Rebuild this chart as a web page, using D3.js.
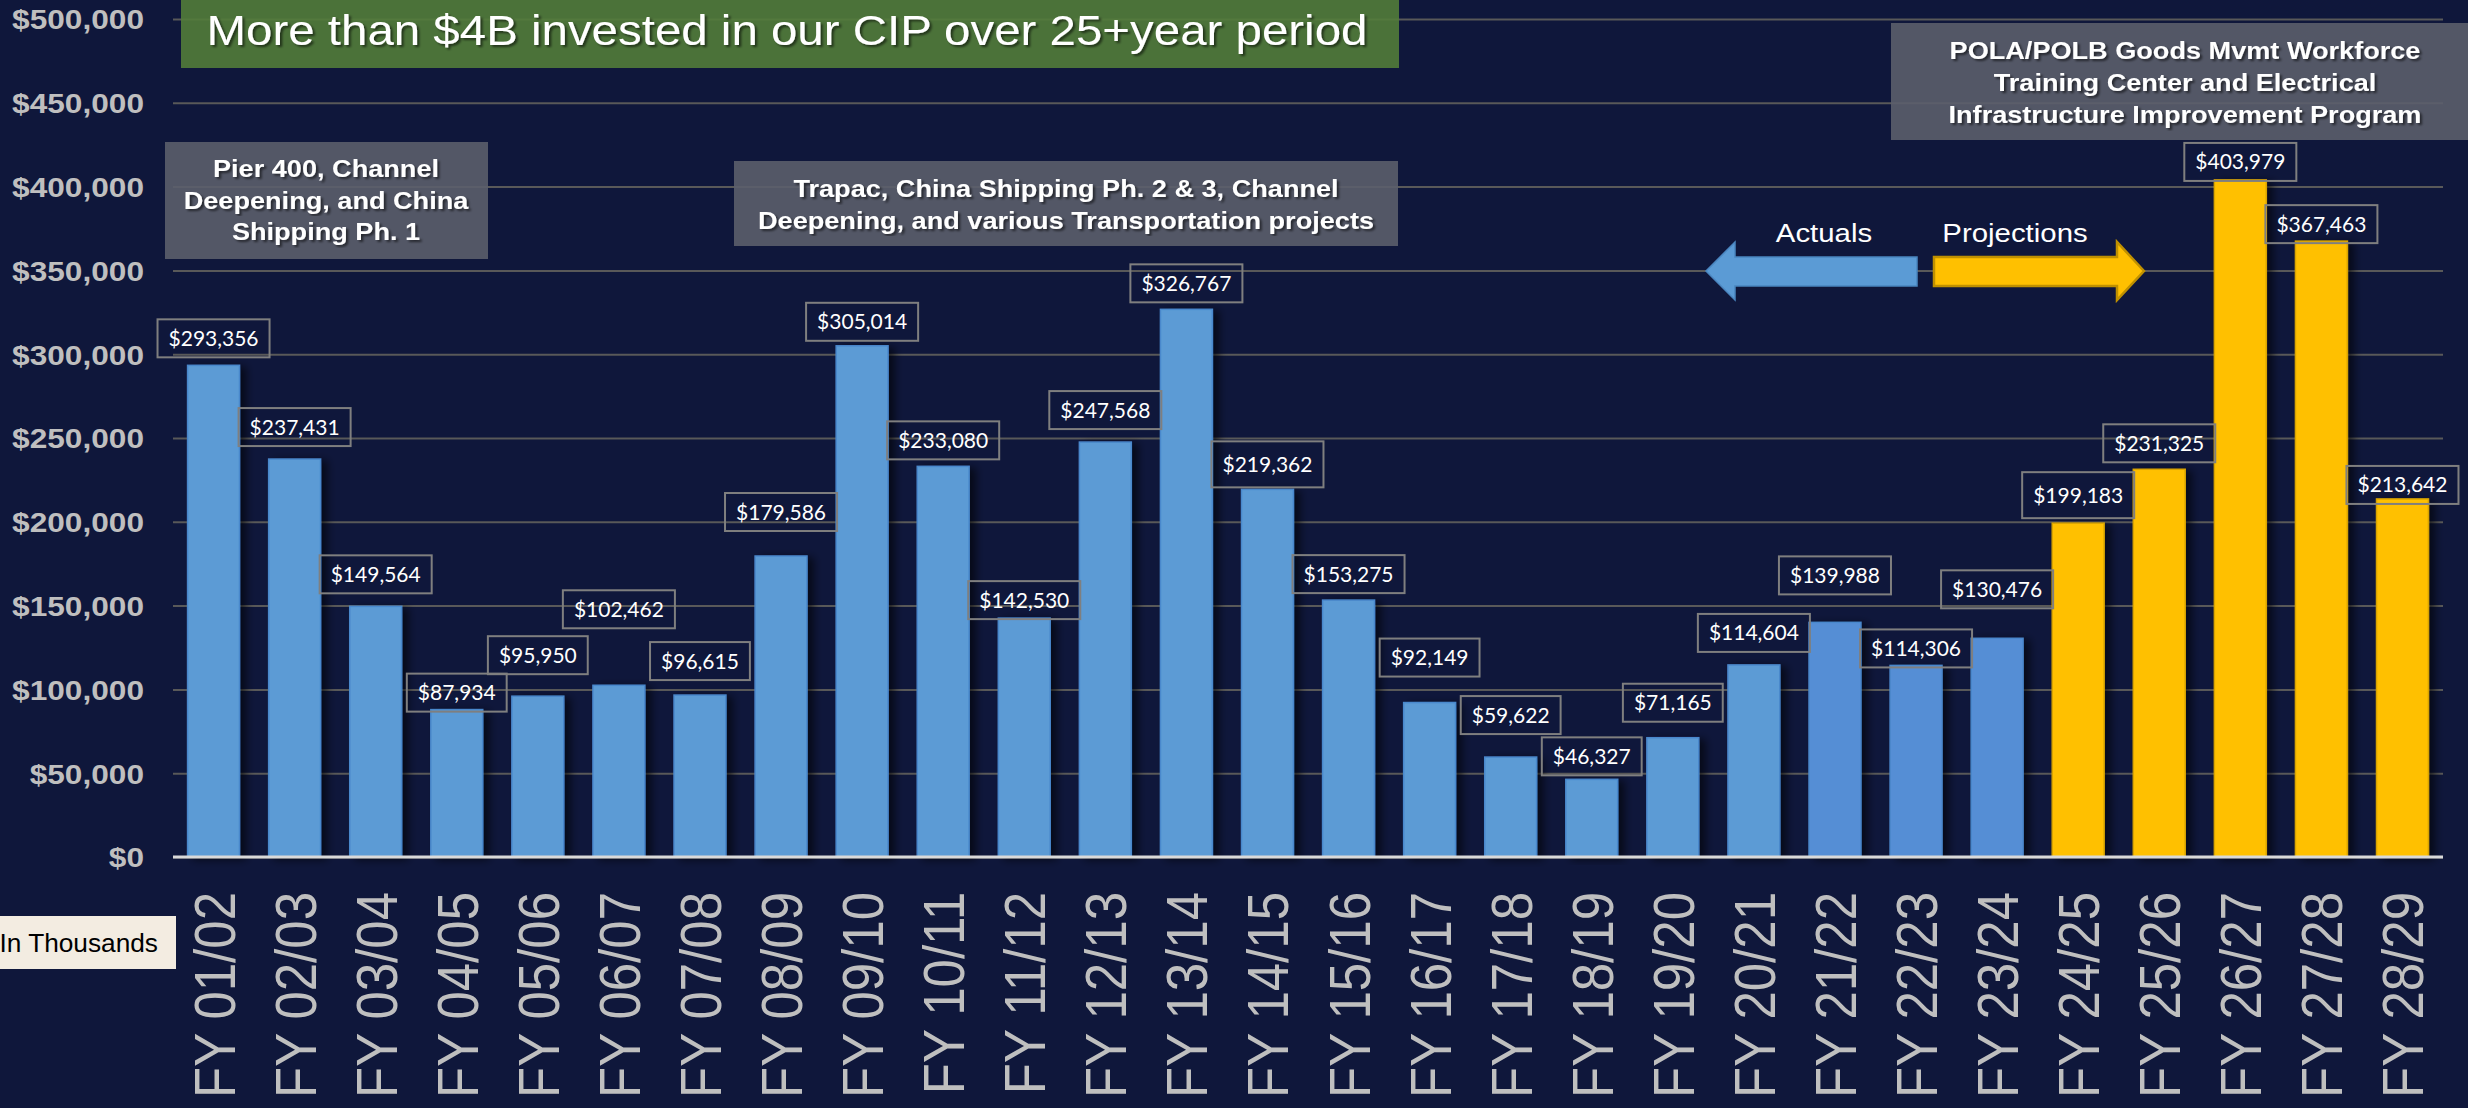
<!DOCTYPE html>
<html>
<head>
<meta charset="utf-8">
<script src="https://cdn.jsdelivr.net/npm/d3@7"></script>
<style>
  body { margin: 0; background: #0f173b; overflow: hidden; }
  svg { display: block; }
</style>
</head>
<body>
<svg id="chart"></svg>
<script>
const width = 2468;
const height = 1108;
const stretch = 1.13; // the slide text is a bit wider than normal

const years = ['FY 01/02', 'FY 02/03', 'FY 03/04', 'FY 04/05', 'FY 05/06', 'FY 06/07', 'FY 07/08',
  'FY 08/09', 'FY 09/10', 'FY 10/11', 'FY 11/12', 'FY 12/13', 'FY 13/14', 'FY 14/15', 'FY 15/16',
  'FY 16/17', 'FY 17/18', 'FY 18/19', 'FY 19/20', 'FY 20/21', 'FY 21/22', 'FY 22/23', 'FY 23/24',
  'FY 24/25', 'FY 25/26', 'FY 26/27', 'FY 27/28', 'FY 28/29'];
const spend = [293356, 237431, 149564, 87934, 95950, 102462, 96615, 179586, 305014, 233080,
  142530, 247568, 326767, 219362, 153275, 92149, 59622, 46327, 71165, 114604, 139988, 114306,
  130476, 199183, 231325, 403979, 367463, 213642];
const recentYears = ['FY 21/22', 'FY 22/23', 'FY 23/24'];
const projectedYears = ['FY 24/25', 'FY 25/26', 'FY 26/27', 'FY 27/28', 'FY 28/29'];
const yTicks = d3.range(0, 500001, 50000);
// how far each value box sits above its bar (px), as placed on the slide
const labelLift = [-27, -32, -32, -17, -41, -76, -34, -44, -24, -26, -18, -32, -26, -25, -26,
  -45, -42, -23, -35, -32, -47, -17, -49, -28, -26, -18, -17, -14];
const tallLabels = ['FY 14/15', 'FY 24/25'];

const titleText = 'More than $4B invested in our CIP over 25+year period';
const noteLeft = ['Pier 400, Channel', 'Deepening, and China', 'Shipping Ph. 1'];
const noteMid = ['Trapac, China Shipping Ph. 2 & 3, Channel', 'Deepening, and various Transportation projects'];
const noteRight = ['POLA/POLB Goods Mvmt Workforce', 'Training Center and Electrical', 'Infrastructure Improvement Program'];

const svg = d3.select('#chart').attr('width', width).attr('height', height);
svg.append('rect').attr('width', width).attr('height', height).attr('fill', '#0f173b');

const defs = svg.append('defs');
defs.append('filter').attr('id', 'barShadow').attr('x', '-20%').attr('width', '160%')
  .append('feDropShadow').attr('dx', 6).attr('dy', 2).attr('stdDeviation', 4)
  .attr('flood-color', '#000').attr('flood-opacity', 0.6);
defs.append('filter').attr('id', 'textShadow')
  .append('feDropShadow').attr('dx', 2).attr('dy', 2).attr('stdDeviation', 1)
  .attr('flood-color', '#000').attr('flood-opacity', 0.55);

const x = d3.scaleBand().domain(years).range([173, 2443]).paddingInner(0.36).paddingOuter(0.18);
const y = d3.scaleLinear().domain([0, 500000]).range([857, 19]);

const barColor = d => projectedYears.includes(d) ? '#ffc000'
  : recentYears.includes(d) ? '#558ed5' : '#5b9bd5';
const barEdge = d => projectedYears.includes(d) ? '#d9a400' : '#4a88cc';

// grid + y labels
const yAxis = svg.append('g').attr('transform', 'translate(173,0)')
  .call(d3.axisLeft(y).tickValues(yTicks).tickSize(-2270)
    .tickFormat(d => '$' + d3.format(',')(d)));
yAxis.select('.domain').remove();
yAxis.selectAll('.tick line').attr('stroke', '#595959').attr('stroke-width', 2);
yAxis.selectAll('.tick text')
  .attr('x', null).attr('dy', '0.35em')
  .attr('transform', `translate(-29,0) scale(${stretch},1)`)
  .attr('fill', '#bfbfbf').attr('font-family', 'Liberation Sans, Arial, sans-serif')
  .attr('font-weight', 'bold').attr('font-size', 28);

// boxes behind text (slightly see-through so grid shows)
function box(x0, y0, w, h, fill) {
  svg.append('rect').attr('x', x0).attr('y', y0).attr('width', w).attr('height', h)
    .attr('fill', fill).attr('fill-opacity', 0.9);
}
box(181, 0, 1218, 68, '#527c3a');
box(165, 142, 323, 117, '#5b5e6c');
box(734, 161, 664, 85, '#5b5e6c');
box(1891, 23, 600, 117, '#5b5e6c');

// bars
svg.append('g').selectAll('rect')
  .data(years)
  .join('rect')
  .attr('x', d => x(d))
  .attr('width', x.bandwidth())
  .attr('y', (d, i) => y(spend[i]))
  .attr('height', (d, i) => y(0) - y(spend[i]))
  .attr('fill', barColor)
  .attr('stroke', barEdge).attr('stroke-width', 1.5)
  .attr('filter', 'url(#barShadow)');

// baseline
svg.append('line').attr('x1', 173).attr('x2', 2443).attr('y1', y(0)).attr('y2', y(0))
  .attr('stroke', '#d9d9d9').attr('stroke-width', 3);

// x labels
const xAxis = svg.append('g').attr('transform', `translate(0,${y(0)})`)
  .call(d3.axisBottom(x).tickSize(0));
xAxis.select('.domain').remove();
xAxis.selectAll('.tick text')
  .attr('y', null).attr('dy', null)
  .attr('text-anchor', 'end')
  .attr('transform', `translate(21,35) scale(${stretch},1) rotate(-90)`)
  .attr('fill', '#bfbfbf').attr('font-family', 'Liberation Sans, Arial, sans-serif')
  .attr('font-size', 51);

// value boxes
const labels = svg.append('g').selectAll('g')
  .data(years)
  .join('g')
  .attr('transform', (d, i) => `translate(${x(d) + x.bandwidth() / 2},${y(spend[i]) + labelLift[i]})`);
labels.append('rect');
labels.append('text')
  .attr('text-anchor', 'middle').attr('dy', '0.36em')
  .attr('fill', '#ffffff').attr('font-family', 'Lato, sans-serif').attr('font-size', 21)
  .text((d, i) => '$' + d3.format(',')(spend[i]));
labels.each(function(d) {
  const g = d3.select(this);
  const w = g.select('text').node().getComputedTextLength() + 22;
  const h = tallLabels.includes(d) ? 46 : 38;
  g.select('rect').attr('x', -w / 2).attr('y', -h / 2).attr('width', w).attr('height', h)
    .attr('fill', 'none').attr('stroke', '#7f7f7f').attr('stroke-width', 2);
});

// texts on the slide
function lines(arr, cx, y0, step, size, weight, shadow) {
  arr.forEach((t, i) => {
    svg.append('text')
      .attr('transform', `translate(${cx},${y0 + i * step}) scale(${stretch},1)`)
      .attr('text-anchor', 'middle').attr('fill', '#ffffff')
      .attr('font-family', 'Liberation Sans, Arial, sans-serif')
      .attr('font-size', size).attr('font-weight', weight)
      .attr('filter', shadow ? 'url(#textShadow)' : null)
      .text(t);
  });
}
lines([titleText], 787, 45, 0, 42, 'normal', true);
lines(noteLeft, 326, 177, 31.5, 24, 'bold', true);
lines(noteMid, 1066, 197, 31.5, 24, 'bold', true);
lines(noteRight, 2185, 59, 32, 24, 'bold', true);

// actuals / projections arrows
svg.append('path')
  .attr('d', 'M1706,271 L1735,242 L1735,257 L1917,257 L1917,286 L1735,286 L1735,300 Z')
  .attr('fill', '#5b9bd5').attr('stroke', '#4a86c0').attr('stroke-width', 1.5);
svg.append('path')
  .attr('d', 'M2144,271 L2117,242 L2117,257 L1934,257 L1934,286 L2117,286 L2117,300 Z')
  .attr('fill', '#ffc000').attr('stroke', '#bf9000').attr('stroke-width', 2.5);
lines(['Actuals'], 1824, 242, 0, 26, 'normal', false);
lines(['Projections'], 2015, 242, 0, 26, 'normal', false);

// units note
svg.append('rect').attr('x', 0).attr('y', 916).attr('width', 176).attr('height', 53).attr('fill', '#f3ece1');
svg.append('text')
  .attr('transform', `translate(158,952) scale(1.05,1)`)
  .attr('text-anchor', 'end').attr('fill', '#000')
  .attr('font-family', 'Liberation Sans, Arial, sans-serif').attr('font-size', 25)
  .text('In Thousands');
</script>
</body>
</html>
